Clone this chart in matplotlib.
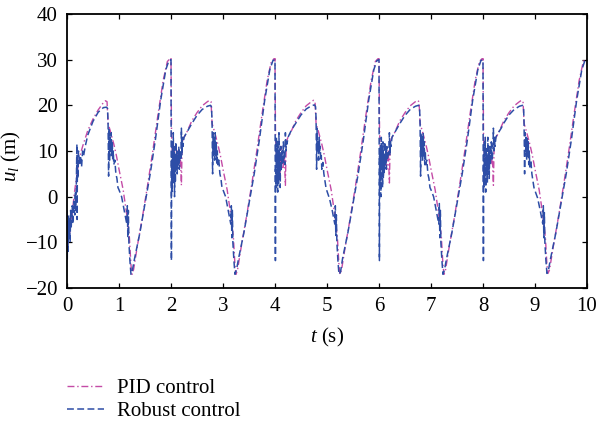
import numpy as np
import matplotlib
matplotlib.use("Agg")
import matplotlib.pyplot as plt

plt.rcParams['font.family'] = ['Liberation Serif', 'DejaVu Serif']
plt.rcParams['mathtext.fontset'] = 'custom'
plt.rcParams['mathtext.rm'] = 'Liberation Serif'
plt.rcParams['mathtext.it'] = 'Liberation Serif:italic'

# ---- data ----
period_starts = [0, 2, 4, 6, 8]

# Robust control, first period (local time, value)
robust_t_first = [0, .005, .010, .020, .030, .040, .050, .060, .070, .080,
                  .100, .110, .130, .150, .160, .170, .180, .190, .195, .200,
                  .210, .220, .240, .260, .280, .300, .320, .350, .400, .500,
                  .600, .700, .760, .780, .790, .800, .810, .820, .830, .840,
                  .850, .860, .870, .880, .890, .900, .920, .940, .960, .980,
                  1.000, 1.050, 1.100, 1.150, 1.160, 1.170, 1.180, 1.190, 1.210, 1.230,
                  1.260, 1.300, 1.400, 1.500, 1.600, 1.700, 1.800, 1.900, 1.960, 2.000]
robust_u_first = [-3, -14, -6, -12, -4, -9, -5, -10, -3, -7,
                  -2, -6, -1, -4, 1, -3, 3, 11.5, -5, 8,
                  4, 10, 7, 9, 6.5, 10, 9, 11, 13.5, 16.5,
                  18.5, 19.5, 19.6, 19.3, 16, 4.5, 15, 8, 13, 10,
                  14, 9, 12, 8, 10, 7, 8, 5, 4, 2,
                  1.5, 0, -3, -6, -2, -9, -3, -10, -14, -17,
                  -16, -13.5, -8, -1.5, 5, 12.5, 21, 27.8, 29.8, 30]

# Robust control, later periods (shared local times)
robust_t_local = [0, .008, .012, .020, .028, .036, .044, .052, .060, .068,
                  .076, .084, .092, .100, .110, .120, .130, .140, .150, .160,
                  .175, .190, .200, .210, .220, .230, .250, .300, .350, .400,
                  .500, .600, .700, .760, .780, .790, .800, .810, .820, .830,
                  .840, .850, .860, .870, .880, .890, .900, .920, .940, .960,
                  .980, 1.000, 1.050, 1.100, 1.150, 1.160, 1.170, 1.180, 1.190, 1.210,
                  1.230, 1.260, 1.300, 1.400, 1.500, 1.600, 1.700, 1.800, 1.900, 1.960,
                  2.000]
robust_u_p2 = [30, -14, 8, 1, 12, 3, 14, 5, 11, 0,
               9, 3, 12, 6, 10, 5, 9, 7, 11, 6,
               10, 8, 15, 9, 13, 11, 13, 14, 15, 16,
               17.8, 19.1, 19.8, 20, 19.6, 16, 5, 14, 9, 13,
               8, 14, 9, 12, 7, 10, 7, 8, 5, 4,
               2, 1.5, 0, -3, -6, -2, -9, -3, -10, -14,
               -17, -16, -13.5, -8, -1.5, 5, 12.5, 21, 27.8, 29.8,
               30]
robust_u_p3 = [30, -14, 6, 2, 13, 4, 12, 1, 10, 3,
               14, 5, 9, 2, 11, 6, 8, 10, 7, 12,
               9, 7, 14, 10, 12, 11.5, 13, 14.2, 15.2, 16.1,
               17.9, 19.2, 19.9, 20.1, 19.7, 17, 6, 15, 10, 12,
               8, 13, 10, 11, 8, 9, 6, 7.5, 5, 3.5,
               2, 1.2, -0.5, -3, -6, -2, -8.5, -4, -10, -14,
               -17, -16.5, -13.5, -8, -1.5, 5, 12.5, 21, 27.8, 29.8,
               30]
robust_u_p4 = [30, -14, 9, 3, 11, 0, 13, 6, 10, 2,
               12, 4, 9, 5, 12, 7, 10, 6, 11, 8,
               9, 10, 14, 9, 12, 11, 13, 14, 15, 16,
               17.8, 19.1, 19.8, 20, 19.6, 16, 4.5, 14, 9, 13,
               8, 14, 9, 12, 7, 10, 7, 8, 5, 4,
               2, 1.5, 0, -3, -6, -1.5, -9, -3, -10, -14,
               -17, -16, -13.5, -8, -1.5, 5, 12.5, 21, 27.8, 29.8,
               30]
robust_u_p5 = [30, -14, 7, 2, 12, 4, 13, 1, 11, 5,
               9, 3, 13, 6, 10, 4, 11, 7, 9, 12,
               8, 10, 15, 10, 13, 11, 13.1, 14.1, 15, 16.1,
               17.9, 19.1, 19.8, 20, 19.6, 16, 5, 14, 10, 13,
               8, 13, 9, 12, 7, 10, 6.5, 8, 5, 3.5,
               2, 1.3, -0.3, -3, -6, -2, -9, -3.5, -10, -14,
               -16.8, -16, -13.5, -8, -1.5, 5, 12.5, 21, 27.8, 29.8,
               30]

# PID control
pid_t_first = [0, .05, .10, .15, .20, .25, .30, .40, .50, .60,
               .70, .74, .77, .79, .83, .90, .95, 1.00, 1.08, 1.15,
               1.20, 1.23, 1.25, 1.28, 1.35, 1.45, 1.55, 1.65, 1.75, 1.85,
               1.93, 1.98, 2.00]
pid_u_first = [-11, -8, -3.5, 1.5, 5.5, 9, 11, 14.5, 17, 19,
               20.6, 21, 20.8, 16, 14.5, 11.5, 9, 6, 1.5, -4,
               -9, -15, -17, -16, -11, -4.5, 2.5, 10, 18, 25.5,
               29.6, 30.2, 30]
pid_t_local = [0, .010, .030, .060, .090, .120, .150, .180, .200, .215,
               .250, .300, .400, .500, .600, .700, .740, .770, .790, .830,
               .900, .950, 1.000, 1.080, 1.150, 1.200, 1.230, 1.250, 1.280, 1.350,
               1.450, 1.550, 1.650, 1.750, 1.850, 1.930, 1.980, 2.000]
pid_u_p2 = [30.2, 14, 8, 11, 6, 10, 7, 9, 2.5, 12,
            13, 14, 16.6, 18.4, 19.9, 20.8, 21.1, 20.8, 16, 14.5,
            11.5, 9, 6, 1.5, -4, -9, -15, -17, -16, -11,
            -4.5, 2.5, 10, 18, 25.5, 29.6, 30.2, 30]
pid_u_p3 = [30.2, 13, 9, 10, 5, 11, 6, 9, 2.5, 12,
            13, 14, 16.6, 18.4, 19.9, 20.8, 21.1, 20.8, 16, 14.5,
            11.5, 9, 6, 1.5, -4, -9, -15, -17, -16, -11,
            -4.5, 2.5, 10, 18, 25.5, 29.6, 30.2, 30]
pid_u_p4 = [30.2, 15, 7, 11, 7, 9, 6, 10, 3, 12,
            13, 14, 16.6, 18.4, 19.9, 20.8, 21.1, 20.8, 16, 14.5,
            11.5, 9, 6, 1.5, -4, -9, -15, -17, -16, -11,
            -4.5, 2.5, 10, 18, 25.5, 29.6, 30.2, 30]
pid_u_p5 = [30.2, 14, 8, 10, 6, 10, 7, 9, 2.5, 12,
            13, 14, 16.6, 18.4, 19.9, 20.8, 21.1, 20.8, 16, 14.5,
            11.5, 9, 6, 1.5, -4, -9, -15, -16.8, -16, -11,
            -4.5, 2.5, 10, 18, 25.5, 29.6, 30.2, 30]

series_labels = ["PID control", "Robust control"]
x_ticks = [0, 1, 2, 3, 4, 5, 6, 7, 8, 9, 10]
y_ticks = [-20, -10, 0, 10, 20, 30, 40]

# ---- assemble ----
def assemble(first_t, first_u, local_t, later_u):
    ts = list(first_t)
    us = list(first_u)
    for start, vals in zip(period_starts[1:], later_u):
        ts += [start + lt for lt in local_t]
        us += list(vals)
    return np.array(ts), np.array(us)

rob_t, rob_u = assemble(robust_t_first, robust_u_first, robust_t_local,
                        [robust_u_p2, robust_u_p3, robust_u_p4, robust_u_p5])
pid_t, pid_u = assemble(pid_t_first, pid_u_first, pid_t_local,
                        [pid_u_p2, pid_u_p3, pid_u_p4, pid_u_p5])

FS = 15
fig = plt.figure(figsize=(5.96, 4.26), dpi=100)
ax = fig.add_axes([67/596, (426-288)/426, 520/596, 274/426])

pid_color = '#C44BA6'
rob_color = '#2D4DA6'

l1, = ax.plot(pid_t, pid_u, color=pid_color, lw=1.0, dashes=(5, 2, 1, 2),
              label=series_labels[0])
l2, = ax.plot(rob_t, rob_u, color=rob_color, lw=1.1, dashes=(4.5, 2.2),
              label=series_labels[1])

ax.set_xlim(0, 10)
ax.set_ylim(-20, 40)
ax.set_xticks(x_ticks)
ax.set_yticks(y_ticks)
ax.set_yticklabels([("\u2212%d" % -v) if v < 0 else "%d" % v for v in y_ticks])
ax.tick_params(direction='in', top=True, right=True, length=3.5, width=0.9,
               labelsize=FS, pad=6.5)
for s in ax.spines.values():
    s.set_linewidth(1.3)

ax.set_xlabel("$t$ (s)", fontsize=FS, labelpad=7)
ax.set_ylabel("$u_l$ (m)", fontsize=FS)
ax.yaxis.set_label_coords(-0.085, 0.48)

fig.legend([l1, l2], series_labels, loc='upper left',
           bbox_to_anchor=(57/596, 1 - 368/426), frameon=False, fontsize=FS,
           handlelength=1.75, handletextpad=0.65, labelspacing=0.18, borderpad=0)

fig.savefig("out.png", dpi=100)
